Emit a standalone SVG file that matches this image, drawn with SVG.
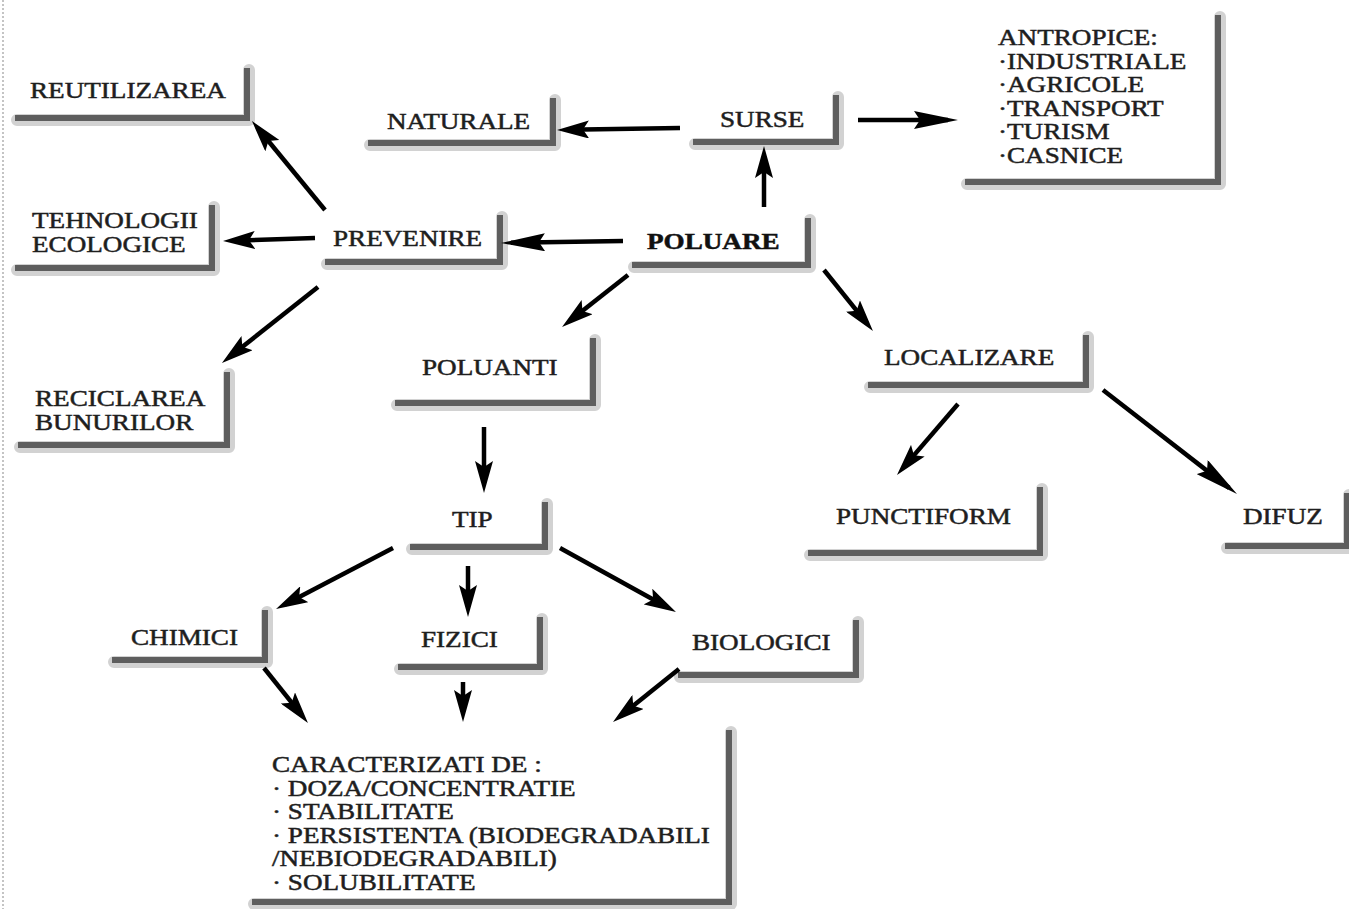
<svg xmlns="http://www.w3.org/2000/svg" width="1349" height="909" viewBox="0 0 1349 909">
<style>
.halo{fill:none;stroke:#d2d2d2;stroke-width:12;stroke-linejoin:round;stroke-linecap:round}
.sh{fill:none;stroke:#5e5e5e;stroke-width:6;stroke-linejoin:miter;stroke-linecap:butt}
.t{font-family:"Liberation Serif","Times New Roman",serif;font-size:23px;fill:#1e1e1e;stroke:#1e1e1e;stroke-width:0.5}
.b{font-weight:bold;fill:#111;stroke:#111}
.c{fill:none;stroke:#000;stroke-width:4.5;stroke-linecap:butt}
.c1{marker-end:url(#ah)}
.c2{marker-end:url(#ahl)}
</style>
<defs>
<marker id="ah" viewBox="0 0 32 18" markerWidth="32" markerHeight="18" refX="22" refY="9" orient="auto" markerUnits="userSpaceOnUse"><path d="M0,0 L32,9 L0,18 L6,9 z" fill="#000"/></marker>
<marker id="ahl" viewBox="0 0 44 18" markerWidth="44" markerHeight="18" refX="34" refY="9" orient="auto" markerUnits="userSpaceOnUse"><path d="M0,0 L44,9 L0,18 L6,9 z" fill="#000"/></marker>
</defs>
<rect width="1349" height="909" fill="#fff"/>
<line x1="3" y1="0" x2="3" y2="909" stroke="#c4c4c4" stroke-width="2" stroke-dasharray="2 2"/>

<g id="reutilizarea"><polyline class="halo" points="17,120 249,120 249,70"/><polyline class="sh" points="15,118 247,118 247,68"/><text class="t" transform="translate(30,98) scale(1.18,1)">REUTILIZAREA</text></g>
<g id="naturale"><polyline class="halo" points="370,145 555,145 555,100"/><polyline class="sh" points="368,143 553,143 553,98"/><text class="t" transform="translate(387,129) scale(1.18,1)">NATURALE</text></g>
<g id="surse"><polyline class="halo" points="695,144 838,144 838,97"/><polyline class="sh" points="693,142 836,142 836,95"/><text class="t" transform="translate(720,127) scale(1.18,1)">SURSE</text></g>
<g id="antropice"><polyline class="halo" points="967,184 1220,184 1220,17"/><polyline class="sh" points="965,182 1218,182 1218,15"/><text class="t" transform="translate(998,45) scale(1.18,1)"><tspan x="0" y="0">ANTROPICE:</tspan><tspan x="0" y="23.6">·INDUSTRIALE</tspan><tspan x="0" y="47.2">·AGRICOLE</tspan><tspan x="0" y="70.8">·TRANSPORT</tspan><tspan x="0" y="94.4">·TURISM</tspan><tspan x="0" y="118">·CASNICE</tspan></text></g>
<g id="tehnologii"><polyline class="halo" points="17,270 214,270 214,207"/><polyline class="sh" points="15,268 212,268 212,205"/><text class="t" transform="translate(32,228) scale(1.18,1)"><tspan x="0" y="0">TEHNOLOGII</tspan><tspan x="0" y="24">ECOLOGICE</tspan></text></g>
<g id="prevenire"><polyline class="halo" points="327,264 502,264 502,217"/><polyline class="sh" points="325,262 500,262 500,215"/><text class="t" transform="translate(333,246) scale(1.18,1)">PREVENIRE</text></g>
<g id="poluare"><polyline class="halo" points="634,267 810,267 810,220"/><polyline class="sh" points="632,265 808,265 808,218"/><text class="t b" transform="translate(647,249) scale(1.18,1)">POLUARE</text></g>
<g id="poluanti"><polyline class="halo" points="397,405 595,405 595,340"/><polyline class="sh" points="395,403 593,403 593,338"/><text class="t" transform="translate(422,375) scale(1.18,1)">POLUANTI</text></g>
<g id="localizare"><polyline class="halo" points="870,387 1088,387 1088,337"/><polyline class="sh" points="868,385 1086,385 1086,335"/><text class="t" transform="translate(884,365) scale(1.18,1)">LOCALIZARE</text></g>
<g id="reciclarea"><polyline class="halo" points="20,447 229,447 229,374"/><polyline class="sh" points="18,445 227,445 227,372"/><text class="t" transform="translate(35,406) scale(1.18,1)"><tspan x="0" y="0">RECICLAREA</tspan><tspan x="0" y="24">BUNURILOR</tspan></text></g>
<g id="tip"><polyline class="halo" points="412,549 547,549 547,504"/><polyline class="sh" points="410,547 545,547 545,502"/><text class="t" transform="translate(452,527) scale(1.18,1)">TIP</text></g>
<g id="punctiform"><polyline class="halo" points="810,555 1042,555 1042,489"/><polyline class="sh" points="808,553 1040,553 1040,487"/><text class="t" transform="translate(836,524) scale(1.18,1)">PUNCTIFORM</text></g>
<g id="difuz"><polyline class="halo" points="1227,548 1349,548 1349,495"/><polyline class="sh" points="1225,546 1347,546 1347,493"/><text class="t" transform="translate(1243,524) scale(1.18,1)">DIFUZ</text></g>
<g id="chimici"><polyline class="halo" points="114,662 267,662 267,612"/><polyline class="sh" points="112,660 265,660 265,610"/><text class="t" transform="translate(131,645) scale(1.18,1)">CHIMICI</text></g>
<g id="fizici"><polyline class="halo" points="400,669 542,669 542,619"/><polyline class="sh" points="398,667 540,667 540,617"/><text class="t" transform="translate(421,647) scale(1.18,1)">FIZICI</text></g>
<g id="biologici"><polyline class="halo" points="680,677 858,677 858,622"/><polyline class="sh" points="678,675 856,675 856,620"/><text class="t" transform="translate(692,650) scale(1.18,1)">BIOLOGICI</text></g>
<g id="caracterizati"><polyline class="halo" points="254,904 731,904 731,732"/><polyline class="sh" points="252,902 729,902 729,730"/><text class="t" transform="translate(272,772) scale(1.18,1)"><tspan x="0" y="0">CARACTERIZATI DE :</tspan><tspan x="0" y="23.6">· DOZA/CONCENTRATIE</tspan><tspan x="0" y="47.2">· STABILITATE</tspan><tspan x="0" y="70.8">· PERSISTENTA (BIODEGRADABILI</tspan><tspan x="0" y="94.4">/NEBIODEGRADABILI)</tspan><tspan x="0" y="118">· SOLUBILITATE</tspan></text></g>

<g id="connectors">
<line class="c c1" x1="680" y1="128" x2="567" y2="129.8"/>
<line class="c c2" x1="858" y1="120" x2="948" y2="120"/>
<line class="c c1" x1="764" y1="207" x2="764" y2="156"/>
<line class="c c2" x1="623" y1="241" x2="511" y2="242.8"/>
<line class="c c1" x1="315" y1="238" x2="233" y2="240.7"/>
<line class="c c1" x1="325" y1="210" x2="258.3" y2="128.7"/>
<line class="c c1" x1="318" y1="287" x2="229.8" y2="356.8"/>
<line class="c c1" x1="628" y1="275" x2="569.9" y2="320.8"/>
<line class="c c1" x1="824" y1="270" x2="866.7" y2="323.2"/>
<line class="c c1" x1="484" y1="427" x2="484" y2="483"/>
<line class="c c1" x1="958" y1="404" x2="903.5" y2="467.4"/>
<line class="c c2" x1="1103" y1="390" x2="1229.1" y2="487.9"/>
<line class="c c1" x1="393" y1="548" x2="284.9" y2="604.4"/>
<line class="c c1" x1="468" y1="566" x2="468" y2="607"/>
<line class="c c1" x1="560" y1="548" x2="667.2" y2="607.2"/>
<line class="c c1" x1="264" y1="668" x2="301.7" y2="715.2"/>
<line class="c c1" x1="463" y1="682" x2="463" y2="712"/>
<line class="c c1" x1="679" y1="669" x2="620.8" y2="715.7"/>
</g>
</svg>
